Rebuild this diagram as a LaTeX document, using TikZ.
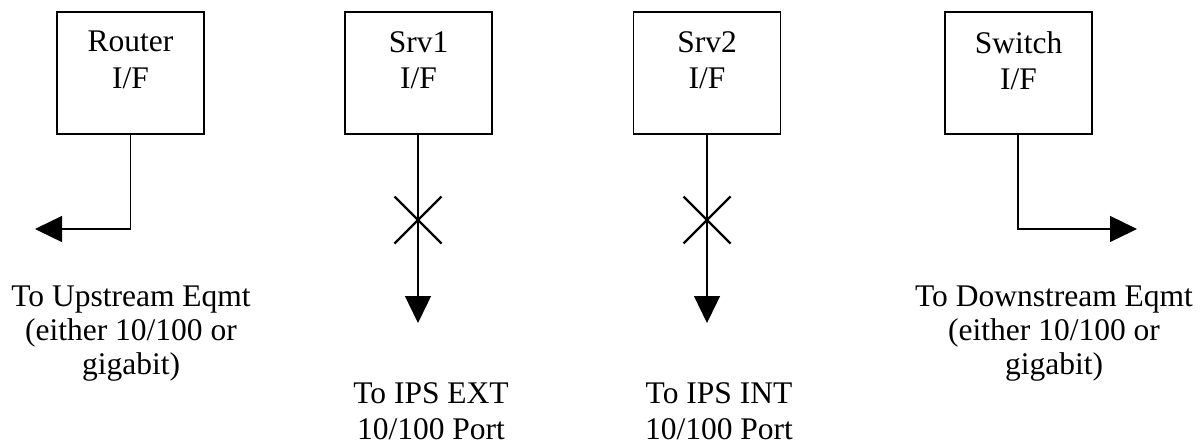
\documentclass[tikz,border=0pt]{standalone}
\usepackage{fontspec}
\setmainfont{Liberation Serif}
\usetikzlibrary{arrows.meta,calc}
\begin{document}
\begin{tikzpicture}[x=1pt,y=1pt,
  ifbox/.style={draw=black,line width=1.4pt,minimum width=147pt,minimum height=122pt,inner sep=0pt},
  lbl/.style={align=center,inner sep=0pt,font=\fontsize{31.5}{35}\selectfont},
  conn/.style={line width=1.3pt,-{Triangle[length=27pt,width=26pt]}},
  xmark/.style={line width=2.2pt}]
\useasboundingbox (0,0) rectangle (1204,-440);
% boxes
\node[ifbox] (router) at (130.5,-73) {};
\node[ifbox] (srv1) at (418.5,-73) {};
\node[ifbox] (srv2) at (707,-73) {};
\node[ifbox] (switch) at (1018.5,-73) {};
% box labels
\node[lbl,font=\fontsize{31.5}{36.5}\selectfont,anchor=north] (routerl) at (130.5,-31) {Router\\I/F};
\node[lbl,font=\fontsize{31.5}{36.5}\selectfont,anchor=north] (srv1l) at (418.5,-31) {Srv1\\I/F};
\node[lbl,font=\fontsize{31.5}{36.5}\selectfont,anchor=north] (srv2l) at (707,-31) {Srv2\\I/F};
\node[lbl,font=\fontsize{31.5}{36.5}\selectfont,anchor=north] (switchl) at (1018.5,-31) {Switch\\I/F};
% free ends
\coordinate (up) at (35,-229);
\coordinate (ext) at (418,-323);
\coordinate (int) at (707,-323);
\coordinate (down) at (1137,-229);
\coordinate (x1) at (418,-220);
\coordinate (x2) at (707,-220);
% connectors
\draw[conn] (router.south) |- (up);
\draw[conn] (srv1.south -| ext) -- (ext);
\draw[conn] (srv2.south -| int) -- (int);
\draw[conn] (switch.south -| 1018,0) |- (down);
% X marks
\draw[xmark] ($(x1)+(-23.5,23.5)$) -- ($(x1)+(23.5,-23.5)$) ($(x1)+(-23.5,-23.5)$) -- ($(x1)+(23.5,23.5)$);
\draw[xmark] ($(x2)+(-23.5,23.5)$) -- ($(x2)+(23.5,-23.5)$) ($(x2)+(-23.5,-23.5)$) -- ($(x2)+(23.5,23.5)$);
% destination labels
\node[lbl,font=\fontsize{31.5}{34}\selectfont,anchor=north] (upl) at (131,-286) {To Upstream Eqmt\\(either 10/100 or\\gigabit)};
\node[lbl,font=\fontsize{31.5}{36}\selectfont,anchor=north] (extl) at (431,-382) {To IPS EXT\\10/100 Port};
\node[lbl,font=\fontsize{31.5}{36}\selectfont,anchor=north] (intl) at (719,-382) {To IPS INT\\10/100 Port};
\node[lbl,font=\fontsize{31.5}{34}\selectfont,anchor=north] (downl) at (1054,-286) {To Downstream Eqmt\\(either 10/100 or\\gigabit)};
\end{tikzpicture}
\end{document}
